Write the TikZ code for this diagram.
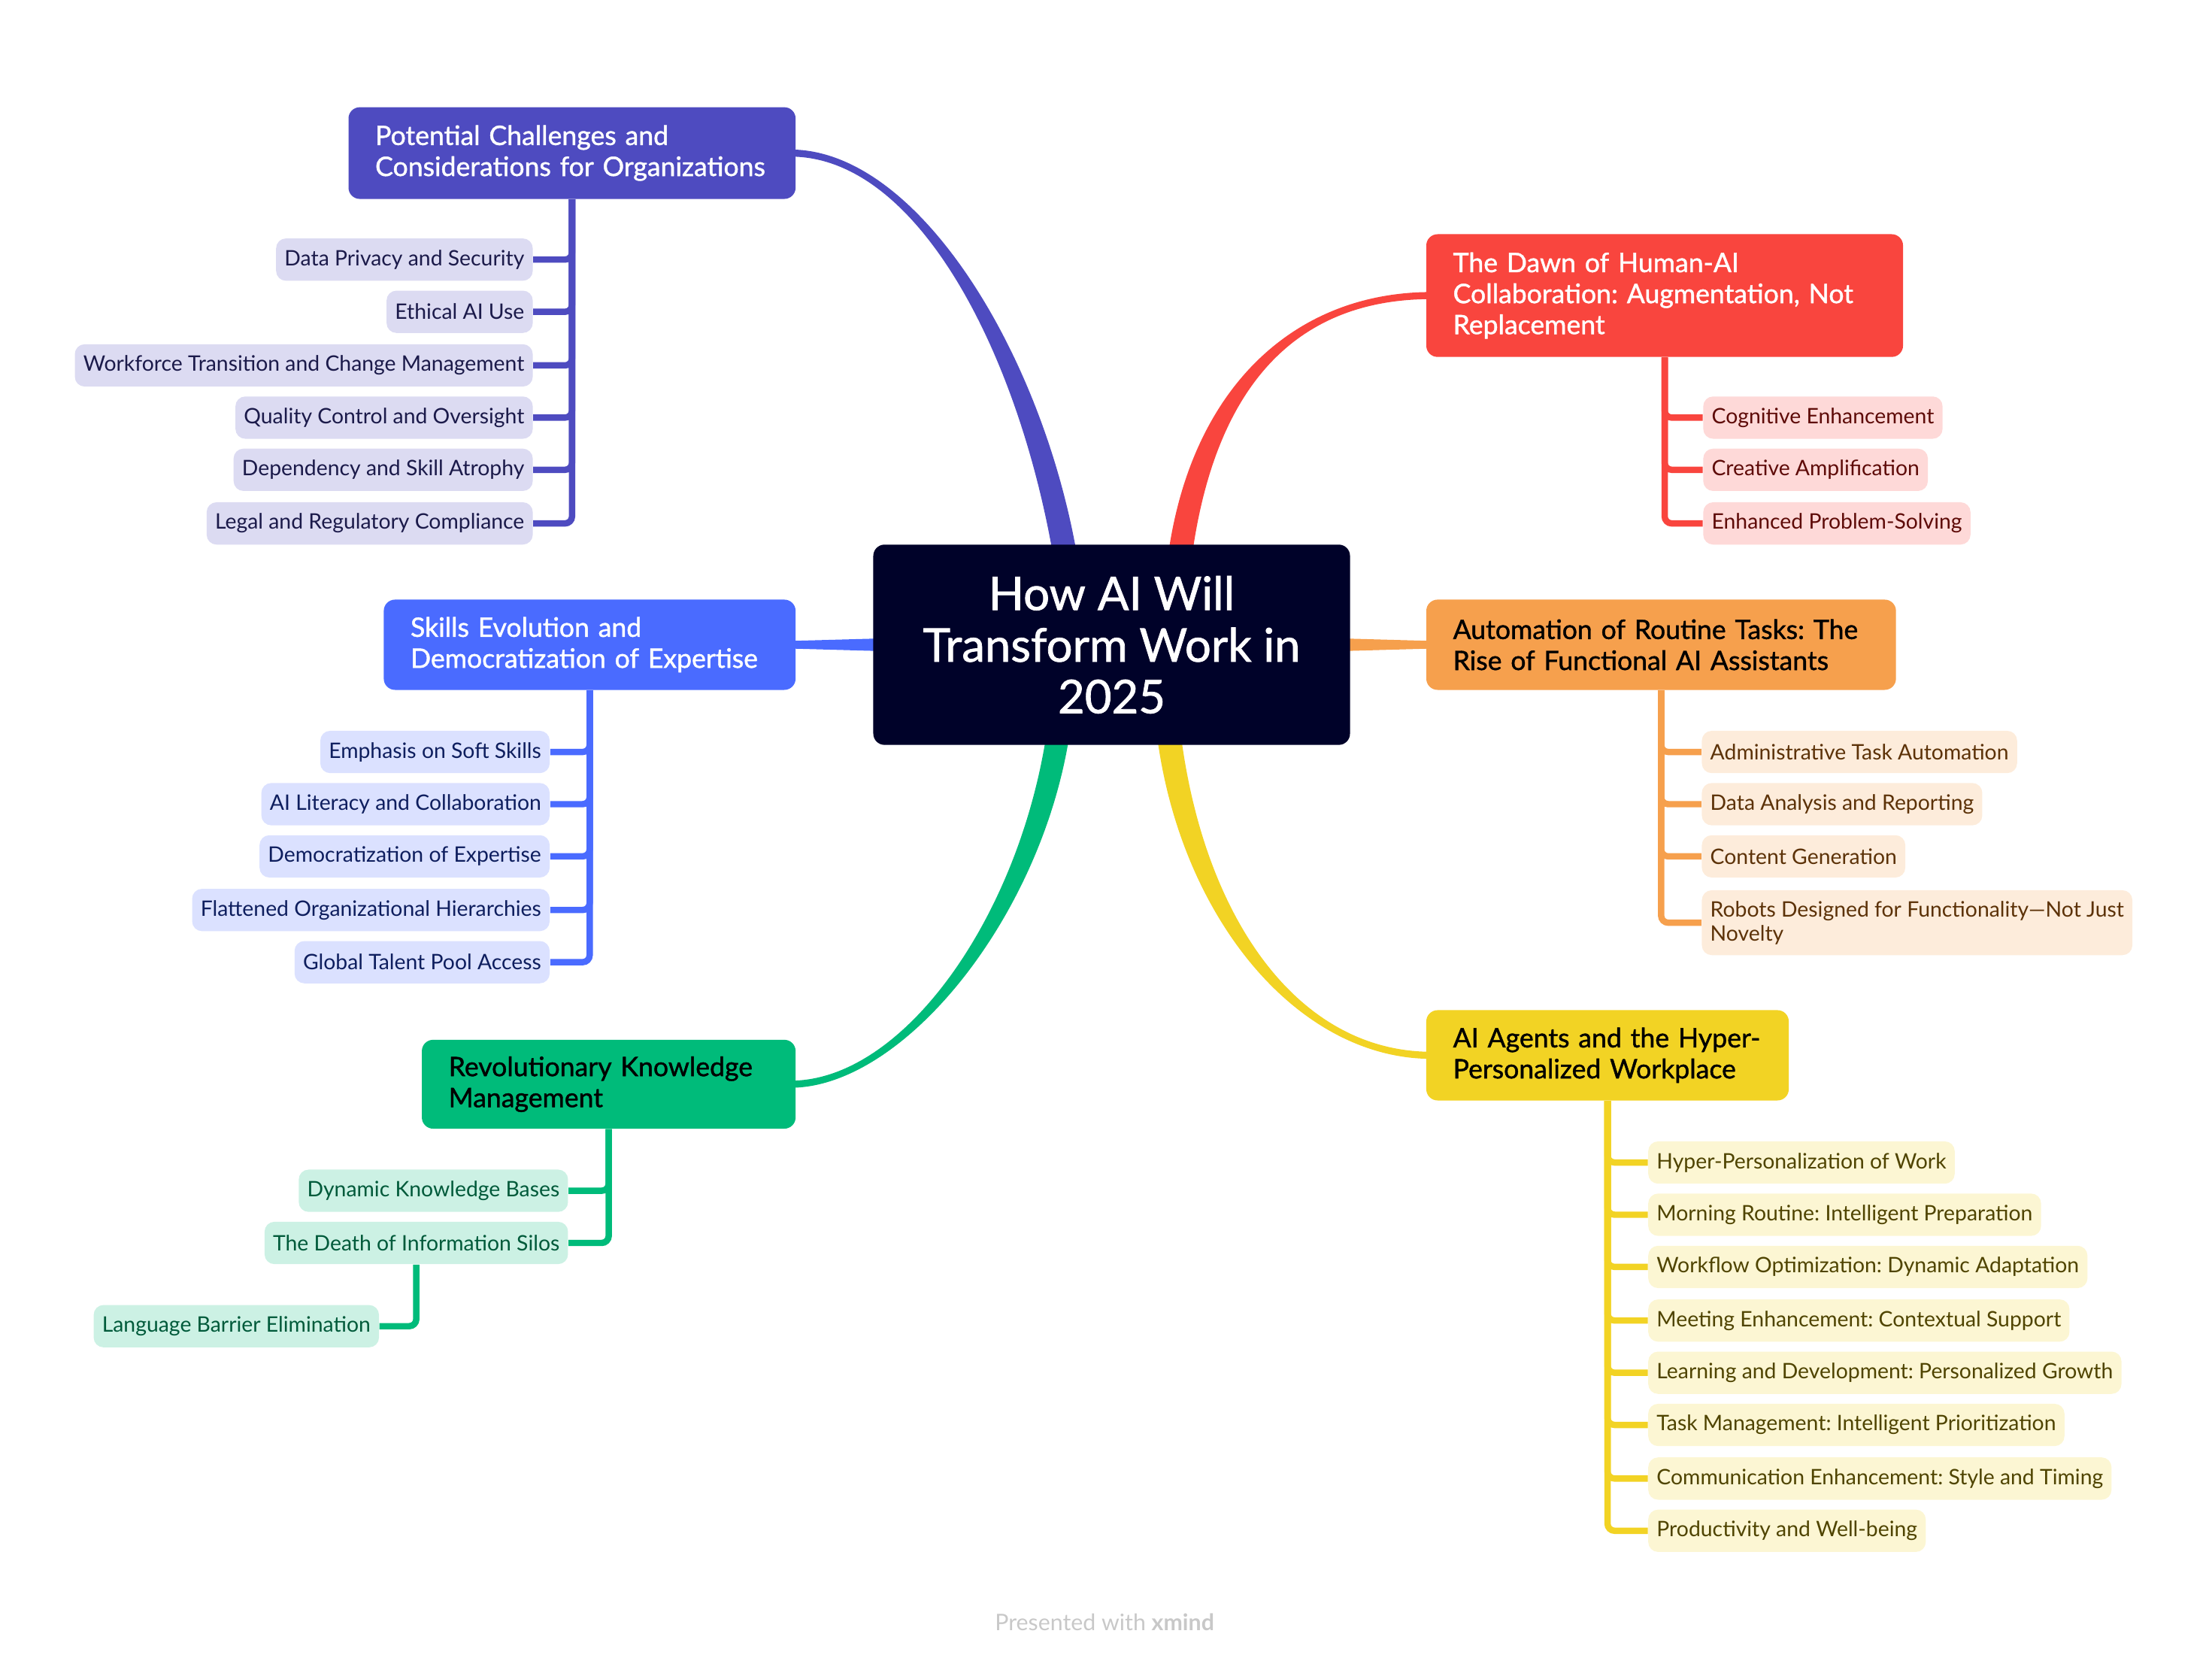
\documentclass[tikz,border=0pt]{standalone}
\usepackage{fontspec}
\setmainfont{Lato}
\newfontfamily\medfont[FakeBold=1.2]{Lato}
\usetikzlibrary{calc,backgrounds}
\frenchspacing

\definecolor{cCenter}{HTML}{000229}
\definecolor{cPurple}{HTML}{4E4BC0}
\definecolor{cPurpleL}{HTML}{DCDBF2}
\definecolor{cPurpleT}{HTML}{1B1A4A}
\definecolor{cRed}{HTML}{F9453E}
\definecolor{cRedL}{HTML}{FED9D8}
\definecolor{cRedT}{HTML}{5E0B08}
\definecolor{cOrange}{HTML}{F6A04D}
\definecolor{cOrangeL}{HTML}{FDECDB}
\definecolor{cOrangeT}{HTML}{5C3208}
\definecolor{cYellow}{HTML}{F2D324}
\definecolor{cYellowL}{HTML}{FCF6D3}
\definecolor{cYellowT}{HTML}{4F4400}
\definecolor{cGreen}{HTML}{00BB7A}
\definecolor{cGreenL}{HTML}{CCF1E4}
\definecolor{cGreenT}{HTML}{005A3A}
\definecolor{cBlue}{HTML}{4A6BFF}
\definecolor{cBlueL}{HTML}{DBE1FF}
\definecolor{cBlueT}{HTML}{0E1E5E}
\definecolor{cFoot}{HTML}{C8C8C8}

% tapered main connector: #1..#4 bezier points, #5 half width at start, #6 signed half width at end, #7 colour
\newcommand\taperlink[7]{%
  \fill[#7] ($(#1)+(#5,0)$) .. controls ($(#2)+(#5,0)$) and ($(#3)+(0,#6)$) .. ($(#4)+(0,#6)$)
    -- ($(#4)-(0,#6)$) .. controls ($(#3)-(0,#6)$) and ($(#2)-(#5,0)$) .. ($(#1)-(#5,0)$) -- cycle;}

\tikzset{
  centerbox/.style={fill=cCenter, text=white, rounded corners=0.16cm, minimum width=6.76cm,
    minimum height=2.84cm, align=center, inner sep=0pt, font=\medfont\fontsize{18.7}{20.8}\selectfont},
  topic/.style={rounded corners=0.16cm, inner xsep=0.38cm, inner ysep=0pt, align=left,
    font=\medfont\fontsize{10.8}{12.5}\selectfont},
  child/.style={rounded corners=0.14cm, inner xsep=0.12cm, inner ysep=0pt, minimum height=0.6cm,
    align=left, font=\fontsize{8.6}{9.7}\selectfont},
  pchild/.style={child, fill=cPurpleL, text=cPurpleT, anchor=east},
  rchild/.style={child, fill=cRedL, text=cRedT, anchor=west},
  ochild/.style={child, fill=cOrangeL, text=cOrangeT, anchor=west},
  ychild/.style={child, fill=cYellowL, text=cYellowT, anchor=west},
  gchild/.style={child, fill=cGreenL, text=cGreenT, anchor=east},
  bchild/.style={child, fill=cBlueL, text=cBlueT, anchor=east},
  branch/.style={line width=0.09cm, rounded corners=0.1cm},
}

\begin{document}
\begin{tikzpicture}[x=0.02cm, y=-0.02cm]
\useasboundingbox (0,0) rectangle (1568,1177);

% central topic
\node[centerbox] (c) at (788,457) {How AI Will\\Transform Work in\\2025};

% main topics
\node[topic, fill=cPurple, text=white, text width=5.58cm, minimum height=1.3cm] (P) at (405.5,108.5)
  {Potential Challenges and\\Considerations for Organizations};
\node[topic, fill=cRed, text=white, text width=6.0cm, minimum height=1.74cm] (R) at (1180,209.5)
  {The Dawn of Human-AI\\Collaboration: Augmentation, Not\\Replacement};
\node[topic, fill=cOrange, text=black, text width=5.9cm, minimum height=1.28cm] (O) at (1177.5,457)
  {Automation of Routine Tasks: The\\Rise of Functional AI Assistants};
\node[topic, fill=cYellow, text=black, text width=4.38cm, minimum height=1.28cm] (Y) at (1139.5,748)
  {AI Agents and the Hyper-\\Personalized Workplace};
\node[topic, fill=cGreen, text=black, text width=4.54cm, minimum height=1.26cm] (G) at (431.5,768.5)
  {Revolutionary Knowledge\\Management};
\node[topic, fill=cBlue, text=white, text width=5.08cm, minimum height=1.28cm] (B) at (418,457)
  {Skills Evolution and\\Democratization of Expertise};

% purple children
\node[pchild] (p1) at (378,184) {Data Privacy and Security};
\node[pchild] (p2) at (378,221) {Ethical AI Use};
\node[pchild] (p3) at (378,259) {Workforce Transition and Change Management};
\node[pchild] (p4) at (378,296) {Quality Control and Oversight};
\node[pchild] (p5) at (378,333) {Dependency and Skill Atrophy};
\node[pchild] (p6) at (378,371) {Legal and Regulatory Compliance};

% red children
\node[rchild] (r1) at (1207,296) {Cognitive Enhancement};
\node[rchild] (r2) at (1207,333) {Creative Amplification};
\node[rchild] (r3) at (1207,371) {Enhanced Problem-Solving};

% orange children
\node[ochild] (o1) at (1206,533) {Administrative Task Automation};
\node[ochild] (o2) at (1206,570) {Data Analysis and Reporting};
\node[ochild] (o3) at (1206,607) {Content Generation};
\node[ochild, minimum height=0.92cm] (o4) at (1206,654) {Robots Designed for Functionality—Not Just\\Novelty};

% yellow children
\node[ychild] (y1) at (1168,824) {Hyper-Personalization of Work};
\node[ychild] (y2) at (1168,861) {Morning Routine: Intelligent Preparation};
\node[ychild] (y3) at (1168,898) {Workflow Optimization: Dynamic Adaptation};
\node[ychild] (y4) at (1168,936) {Meeting Enhancement: Contextual Support};
\node[ychild] (y5) at (1168,973) {Learning and Development: Personalized Growth};
\node[ychild] (y6) at (1168,1010) {Task Management: Intelligent Prioritization};
\node[ychild] (y7) at (1168,1048) {Communication Enhancement: Style and Timing};
\node[ychild] (y8) at (1168,1085) {Productivity and Well-being};

% green children
\node[gchild] (g1) at (403,844) {Dynamic Knowledge Bases};
\node[gchild] (g2) at (403,881) {The Death of Information Silos};
\node[gchild] (g3) at (269,940) {Language Barrier Elimination};

% blue children
\node[bchild] (b1) at (390,533) {Emphasis on Soft Skills};
\node[bchild] (b2) at (390,570) {AI Literacy and Collaboration};
\node[bchild] (b3) at (390,607) {Democratization of Expertise};
\node[bchild] (b4) at (390,645) {Flattened Organizational Hierarchies};
\node[bchild] (b5) at (390,682) {Global Talent Pool Access};

% footer
\node[text=cFoot, font=\fontsize{9.2}{11}\selectfont] (foot) at (783,1150) {Presented with \textbf{xmind}};

\begin{scope}[on background layer]
  % main tapered connectors
  \coordinate (pa) at ($(c.north)+(-33,8)$);
  \coordinate (pb) at ($(c.north)+(-58,-136)$);
  \coordinate (pc) at ($(P.east)+(86,0)$);
  \coordinate (pd) at ($(P.east)+(-4,0)$);
  \taperlink{pa}{pb}{pc}{pd}{8.5}{-2.5}{cPurple}

  \coordinate (ra) at ($(c.north)+(48.5,8)$);
  \coordinate (rb) at ($(c.north)+(65,-111)$);
  \coordinate (rc) at ($(R.west)+(-93,0)$);
  \coordinate (rd) at ($(R.west)+(4,0)$);
  \taperlink{ra}{rb}{rc}{rd}{8.5}{2.5}{cRed}

  \coordinate (ga) at ($(c.south)+(-38,-8)$);
  \coordinate (gb) at ($(c.south)+(-58,122)$);
  \coordinate (gc) at ($(G.east)+(76,0)$);
  \coordinate (gd) at ($(G.east)+(-4,0)$);
  \taperlink{ga}{gb}{gc}{gd}{8.2}{2.5}{cGreen}

  \coordinate (ya) at ($(c.south)+(40.5,-8)$);
  \coordinate (yb) at ($(c.south)+(57,122)$);
  \coordinate (yc) at ($(Y.west)+(-91,0)$);
  \coordinate (yd) at ($(Y.west)+(4,0)$);
  \taperlink{ya}{yb}{yc}{yd}{8.5}{-2.5}{cYellow}

  \fill[cOrange] ($(c.east)+(-10,-4.6)$) -- ($(O.west)+(4,-2.7)$) -- ($(O.west)+(4,2.7)$) -- ($(c.east)+(-10,4.6)$) -- cycle;
  \fill[cBlue] ($(c.west)+(10,-4.6)$) -- ($(B.east)+(-4,-2.7)$) -- ($(B.east)+(-4,2.7)$) -- ($(c.west)+(10,4.6)$) -- cycle;

  % branches to children
  \foreach \k in {p1,p2,p3,p4,p5,p6} \draw[branch, cPurple] (P.south) |- (\k.east);
  \foreach \k in {r1,r2,r3} \draw[branch, cRed] (R.south) |- (\k.west);
  \foreach \k in {o1,o2,o3,o4} \draw[branch, cOrange] (O.south) |- (\k.west);
  \foreach \k in {y1,y2,y3,y4,y5,y6,y7,y8} \draw[branch, cYellow] (Y.south) |- (\k.west);
  \foreach \k in {g1,g2} \draw[branch, cGreen] (G.south) |- (\k.east);
  \draw[branch, cGreen] (g2.south) |- (g3.east);
  \foreach \k in {b1,b2,b3,b4,b5} \draw[branch, cBlue] (B.south) |- (\k.east);
\end{scope}
\end{tikzpicture}
\end{document}
